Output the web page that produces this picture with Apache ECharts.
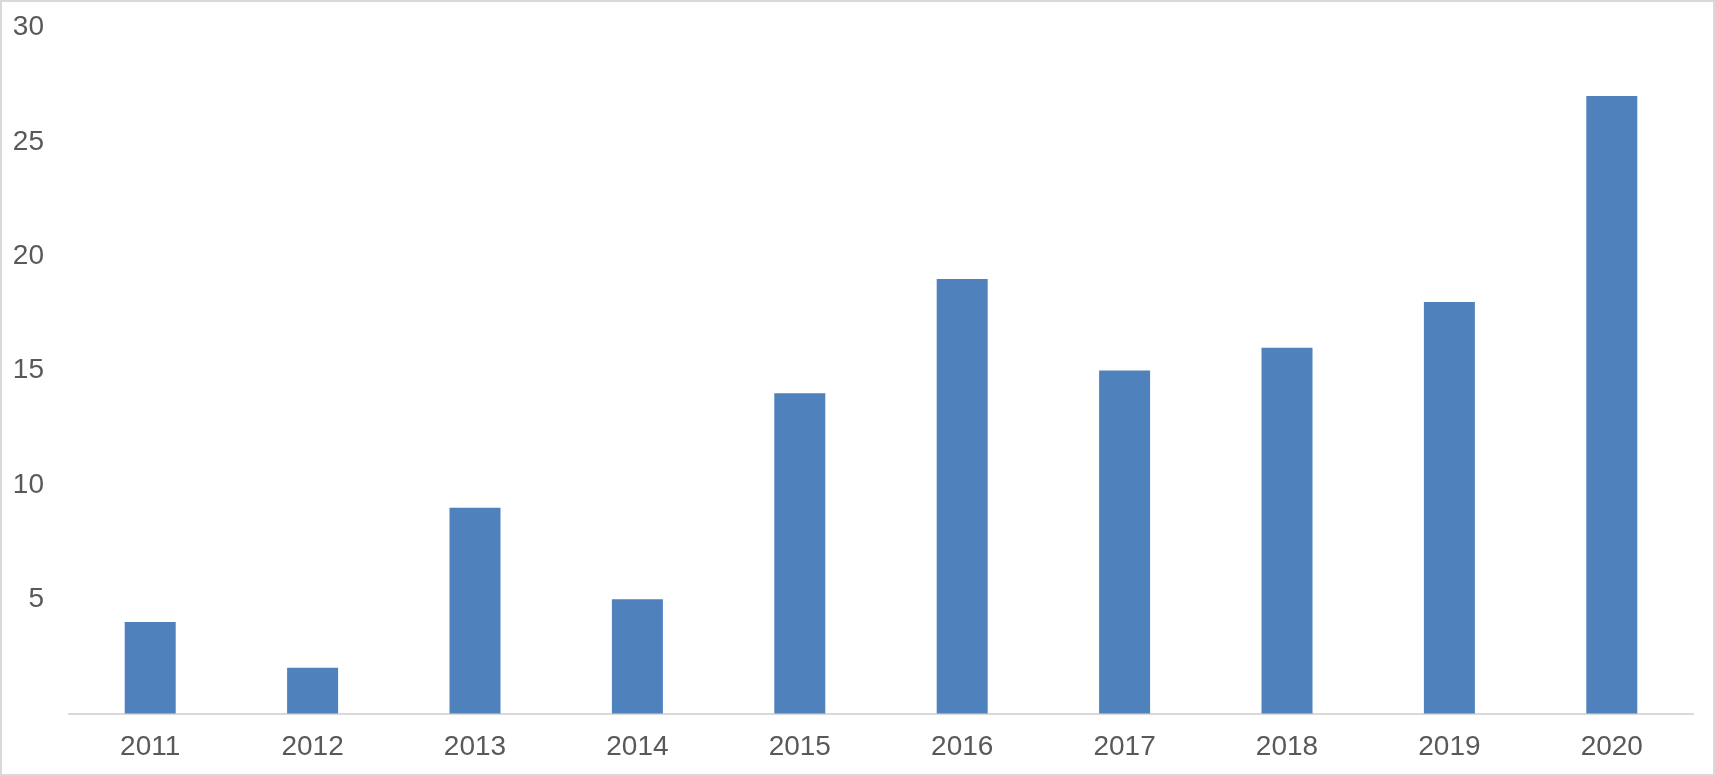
<!DOCTYPE html>
<html>
<head>
<meta charset="utf-8">
<style>
html,body{margin:0;padding:0;background:#fff;}
#chart{width:1715px;height:776px;}
</style>
<script src="https://cdn.jsdelivr.net/npm/echarts@6/dist/echarts.min.js"></script>
</head>
<body>
<div id="chart"></div>
<script>
const categories = ['2011','2012','2013','2014','2015','2016','2017','2018','2019','2020'];
const values = [4, 2, 9, 5, 14, 19, 15, 16, 18, 27];
const yTicks = [0, 5, 10, 15, 20, 25, 30];

const chart = echarts.init(document.getElementById('chart'), null, {renderer:'canvas'});
const font = '"Liberation Sans", Arial, sans-serif';
chart.setOption({
  animation: false,
  backgroundColor: '#ffffff',
  graphic: [{
    type: 'rect',
    shape: {x: 1, y: 1, width: 1713, height: 774},
    style: {fill: 'none', stroke: '#d9d9d9', lineWidth: 2},
    silent: true
  }],
  grid: {left: 69, right: 22, top: 27.5, bottom: 62.5, containLabel: false},
  xAxis: {
    type: 'category',
    data: categories,
    axisLine: {show: true, lineStyle: {color: '#d9d9d9', width: 2}},
    axisTick: {show: false},
    axisLabel: {color: '#595959', fontSize: 28, fontFamily: font, margin: 20},
    splitLine: {show: false}
  },
  yAxis: {
    type: 'value',
    min: yTicks[0],
    max: yTicks[yTicks.length - 1],
    interval: 5,
    axisLine: {show: false},
    axisTick: {show: false},
    splitLine: {show: false},
    axisLabel: {
      color: '#595959', fontSize: 28, fontFamily: font, margin: 25,
      padding: [4, 0, 0, 0],
      formatter: v => (v === 0 ? '' : String(v))
    }
  },
  series: [{
    type: 'bar',
    data: values,
    barWidth: 51,
    itemStyle: {color: '#4f81bd'}
  }]
});
</script>
</body>
</html>
